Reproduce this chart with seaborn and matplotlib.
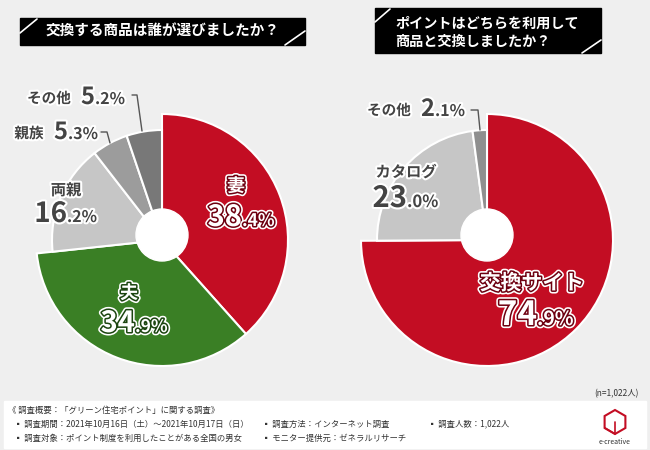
"""グリーン住宅ポイントの調査結果（2つのドーナツ円グラフ）を再現する。"""

import matplotlib

matplotlib.use("Agg")

import matplotlib.pyplot as plt
from matplotlib import patheffects
from matplotlib.patches import Circle, Rectangle, RegularPolygon
import seaborn as sns


# 左：交換する商品は誰が選びましたか？
WHO_LABELS = ["妻", "夫", "両親", "親族", "その他"]
WHO_VALUES = [38.4, 34.9, 16.2, 5.3, 5.2]
WHO_COLORS = ["#c30d23", "#3a7f25", "#c6c6c6", "#9c9c9c", "#787878"]

# 右：ポイントはどちらを利用して商品と交換しましたか？
HOW_LABELS = ["交換サイト", "カタログ", "その他"]
HOW_VALUES = [74.9, 23.0, 2.1]
HOW_COLORS = ["#c30d23", "#c6c6c6", "#8f8f8f"]

WIDTH, HEIGHT = 650, 450
FONT = ["Noto Sans CJK JP", "DejaVu Sans"]
BG = "#efefef"


def px(x, y):
    """画像の座標（左上原点）をデータ座標に変換する。"""
    return x, HEIGHT - y


def draw_donut(axis, values, colors, radii, center, hole):
    wedges, _ = axis.pie(
        values,
        colors=colors,
        startangle=90,
        counterclock=False,
        center=px(*center),
        radius=1,
        wedgeprops=dict(edgecolor="white", linewidth=1.5),
    )
    for wedge, radius in zip(wedges, radii):
        wedge.set_radius(radius)
    axis.add_patch(Circle(px(*hole), 26, color="white", zorder=3))


def white_style(dark):
    return dict(
        color="white",
        fontweight="bold",
        family=FONT,
        path_effects=[
            patheffects.Stroke(linewidth=4.5, foreground="white"),
            patheffects.Stroke(linewidth=2.2, foreground=dark),
            patheffects.Normal(),
        ],
    )


GRAY_STYLE = dict(
    color="#444444",
    fontweight="bold",
    family=FONT,
    path_effects=[patheffects.Stroke(linewidth=3, foreground="white"), patheffects.Normal()],
)


def slice_label(axis, name, value, name_pos, split, baseline, sizes, style=GRAY_STYLE):
    name_size, big, small = sizes
    axis.text(*px(*name_pos), name, ha="center", va="center", fontsize=name_size, **style)
    whole, decimal = f"{value:.1f}".split(".")
    axis.text(*px(split, baseline), whole, ha="right", va="baseline", fontsize=big, **style)
    axis.text(*px(split, baseline), "." + decimal + "%", ha="left", va="baseline", fontsize=small, **style)


def leader(axis, points):
    xs = [p[0] for p in points]
    ys = [HEIGHT - p[1] for p in points]
    axis.plot(xs, ys, color="#555555", linewidth=1, zorder=4)


def title_box(axis, left, top, right, bottom, slash_a, slash_b):
    axis.add_patch(Rectangle(px(left, bottom), right - left, bottom - top, color="black", zorder=5))
    for (x0, y0), (x1, y1) in (slash_a, slash_b):
        axis.plot([x0, x1], [HEIGHT - y0, HEIGHT - y1], color="white", linewidth=1.2, zorder=6)


def main() -> None:
    sns.set_theme(style="white")
    plt.rcParams["font.family"] = FONT
    plt.rcParams["axes.unicode_minus"] = False

    figure = plt.figure(figsize=(6.5, 4.5), dpi=100, facecolor=BG)
    axis = figure.add_axes([0, 0, 1, 1])
    axis.set_facecolor(BG)

    # ドーナツ円グラフ（大きい2区分は外側へ張り出す）
    draw_donut(axis, WHO_VALUES, WHO_COLORS, [126, 126, 110, 110, 110], (162, 240), (162, 235))
    draw_donut(axis, HOW_VALUES, HOW_COLORS, [126, 110, 110], (487, 240), (487, 235))

    # 左グラフのラベル
    slice_label(axis, WHO_LABELS[0], WHO_VALUES[0], (236, 186), 242, 226, (13, 21, 12.5), white_style("#6e0010"))
    slice_label(axis, WHO_LABELS[1], WHO_VALUES[1], (129, 293), 135, 332, (13, 21, 12.5), white_style("#1c4510"))
    slice_label(axis, WHO_LABELS[2], WHO_VALUES[2], (66, 190), 67, 222, (11, 20, 11.5))
    slice_label(axis, WHO_LABELS[3], WHO_VALUES[3], (29, 133), 68, 139, (10.5, 17, 11.5))
    slice_label(axis, WHO_LABELS[4], WHO_VALUES[4], (49, 98), 95, 104, (10.5, 17, 11.5))
    leader(axis, [(101, 132), (107, 132), (110, 143)])
    leader(axis, [(132, 95), (137, 95), (142, 131)])

    # 右グラフのラベル
    slice_label(axis, HOW_LABELS[0], HOW_VALUES[0], (532, 283), 537, 325, (15, 24, 14), white_style("#6e0010"))
    slice_label(axis, HOW_LABELS[1], HOW_VALUES[1], (406, 172), 407, 207, (11, 21, 12))
    slice_label(axis, HOW_LABELS[2], HOW_VALUES[2], (389, 110), 435, 116, (10.5, 17, 11.5))
    leader(axis, [(471, 110), (478, 110), (480, 130)])

    # 設問タイトル
    title_box(axis, 20, 18, 305, 45, ((20, 33), (37, 19)), ((285, 45), (305, 31)))
    axis.text(*px(163, 31), "交換する商品は誰が選びましたか？", color="white", fontsize=10.5,
              fontweight="bold", ha="center", va="center", zorder=7)
    title_box(axis, 375, 8, 601, 53, ((375, 22), (390, 9)), ((582, 53), (601, 40)))
    axis.text(*px(395, 24), "ポイントはどちらを利用して", color="white", fontsize=10.2,
              fontweight="bold", ha="left", va="center", zorder=7)
    axis.text(*px(395, 42), "商品と交換しましたか？", color="white", fontsize=10.2,
              fontweight="bold", ha="left", va="center", zorder=7)

    # 調査概要
    axis.add_patch(Rectangle(px(4, 448), 642, 47, color="white", zorder=5))
    axis.text(*px(639, 394), "(n=1,022人)", fontsize=6, color="#333333", ha="right", va="center")
    footer = [
        (8, 410, "《 調査概要：「グリーン住宅ポイント」に関する調査》"),
        (14, 424, "▪ 調査期間：2021年10月16日（土）～2021年10月17日（日）"),
        (262, 424, "▪ 調査方法：インターネット調査"),
        (428, 424, "▪ 調査人数：1,022人"),
        (14, 438, "▪ 調査対象：ポイント制度を利用したことがある全国の男女"),
        (262, 438, "▪ モニター提供元：ゼネラルリサーチ"),
    ]
    for x, y, text in footer:
        axis.text(*px(x, y), text, fontsize=6, color="#333333", ha="left", va="center", zorder=6)

    # ロゴ
    axis.add_patch(RegularPolygon(px(615, 422), 6, radius=12, fill=False, edgecolor="#c30d23",
                                  linewidth=1.5, zorder=6))
    axis.plot([615, 615, 605], [HEIGHT - 422, HEIGHT - 434, HEIGHT - 428], color="#c30d23",
              linewidth=1.2, zorder=6)
    axis.text(*px(615, 442), "e-creative", fontsize=5, color="#333333", ha="center", va="center", zorder=6)

    axis.set_xlim(0, WIDTH)
    axis.set_ylim(0, HEIGHT)
    axis.set_aspect("auto")
    axis.axis("off")
    figure.savefig("out.png", dpi=100, facecolor=BG)
    plt.close(figure)


if __name__ == "__main__":
    main()
